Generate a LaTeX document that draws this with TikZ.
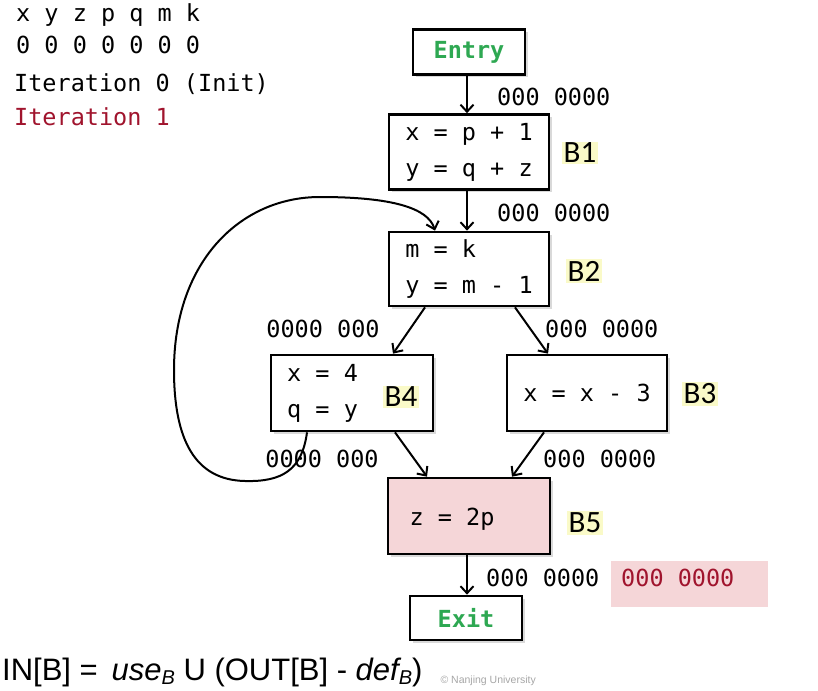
\documentclass[tikz,border=0pt]{standalone}
\usepackage{fontspec}
\setmonofont{DejaVu Sans Mono}
\newfontfamily\calib{Carlito}
\newfontfamily\arialf{Liberation Sans}
\usetikzlibrary{arrows.meta,shadows}
\definecolor{entrygreen}{RGB}{46,168,82}
\definecolor{iterred}{RGB}{160,20,45}
\definecolor{pinkfill}{RGB}{245,214,216}
\definecolor{labyellow}{RGB}{250,250,200}
\tikzset{
  mono/.style={font=\ttfamily\fontsize{23.5}{36}\selectfont, inner sep=0pt},
  blk/.style={draw, line width=2.7pt, fill=white, drop shadow={shadow xshift=2.5pt, shadow yshift=-2.5pt, opacity=0.3}},
  blabel/.style={font=\calib\fontsize{31}{31}\selectfont, fill=labyellow, inner sep=1.5pt},
  conn/.style={line width=2pt, -{Straight Barb[length=7pt,width=13pt,line width=2pt]}},
  val/.style={mono, anchor=west},
}
\begin{document}
\begin{tikzpicture}[x=1pt,y=-1pt]
\useasboundingbox (0,0) rectangle (818,690);
% header
\node[val] (hvars) at (16,15) {x y z p q m k};
\node[val] (hzero) at (16,45) {0 0 0 0 0 0 0};
\node[val] (it0) at (14,84) {Iteration 0 (Init)};
\node[val, text=iterred] (it1) at (14,117) {Iteration 1};
% blocks
\node[blk, minimum width=112pt, minimum height=45pt, mono, font=\ttfamily\bfseries\fontsize{23.5}{36}\selectfont, text=entrygreen] (entry) at (469,52) {Entry};
\node[blk, minimum width=160pt, minimum height=75pt, mono, align=left] (b1) at (469,152) {x = p + 1\\y = q + z};
\node[blk, minimum width=160pt, minimum height=74pt, mono, align=left] (b2) at (469,269) {m = k\\y = m - 1};
\node[blk, minimum width=162pt, minimum height=76pt] (b4) at (352,393) {};
\node[mono, anchor=west, align=left] (b4txt) at (287,393) {x = 4\\q = y};
\node[blk, minimum width=160pt, minimum height=76pt, mono] (b3) at (587,393) {x = x - 3};
\node[blk, minimum width=162pt, minimum height=76pt, fill=pinkfill] (b5) at (469,516) {};
\node[mono] (b5txt) at (452,519) {z = 2p};
\node[blk, minimum width=112pt, minimum height=44pt, mono, font=\ttfamily\bfseries\fontsize{23.5}{36}\selectfont, text=entrygreen] (exit) at (466,618) {Exit};
% block labels
\node[blabel] (l1) at (580,153) {B1};
\node[blabel] (l2) at (584,271) {B2};
\node[blabel] (l4) at (401,397) {B4};
\node[blabel] (l3) at (700,394) {B3};
\node[blabel] (l5) at (585,523) {B5};
% values
\node[val] (v1) at (497,97) {000 0000};
\node[val] (v2) at (497,213) {000 0000};
\node[mono] (v3) at (323,329) {0000 000};
\node[val] (v4) at (545,329) {000 0000};
\node[mono] (v5) at (322,459) {0000 000};
\node[val] (v6) at (543,459) {000 0000};
\node[val] (v7) at (486,578) {000 0000};
\node[fill=pinkfill, minimum width=157pt, minimum height=46pt, inner sep=0pt] (rbox) at (689.5,584) {};
\node[val, text=iterred] (v8) at (621,578) {000 0000};
% connectors
\draw[conn] ([xshift=-2pt]entry.south) -- ([xshift=-2pt]b1.north);
\draw[conn] ([xshift=-2pt]b1.south) -- ([xshift=-2pt]b2.north);
\draw[conn] ([xshift=-44pt]b2.south) -- ([xshift=41pt]b4.north);
\draw[conn] ([xshift=46pt]b2.south) -- ([xshift=-39pt]b3.north);
\draw[conn] ([xshift=43pt]b4.south) -- ([xshift=-42pt]b5.north);
\draw[conn] ([xshift=-43pt]b3.south) -- ([xshift=43pt]b5.north);
\draw[conn] ([xshift=-2pt]b5.south) -- ([xshift=1pt]exit.north);
\draw[conn] ([xshift=-45pt]b4.south) .. controls (302,470) and (282,482) .. (245,481)
  .. controls (195,480) and (174,440) .. (174,370)
  .. controls (174,262) and (240,197) .. (320,197)
  .. controls (392,197) and (428,208) .. ([xshift=-34pt]b2.north);
% formula and watermark
\node[anchor=base east, inner sep=0pt, text=gray!70, font=\arialf\fontsize{10.5}{10.5}\selectfont] (wm) at (536,683) {© Nanjing University};
\node[anchor=base west, inner sep=0pt, font=\arialf\fontsize{31}{31}\selectfont] (formula) at (2,680)
  {IN[B] = \,{\itshape use\raisebox{-0.25ex}{\fontsize{20}{20}\selectfont B}} U (OUT[B] - {\itshape def\raisebox{-0.25ex}{\fontsize{20}{20}\selectfont B}})};
\end{tikzpicture}
\end{document}
